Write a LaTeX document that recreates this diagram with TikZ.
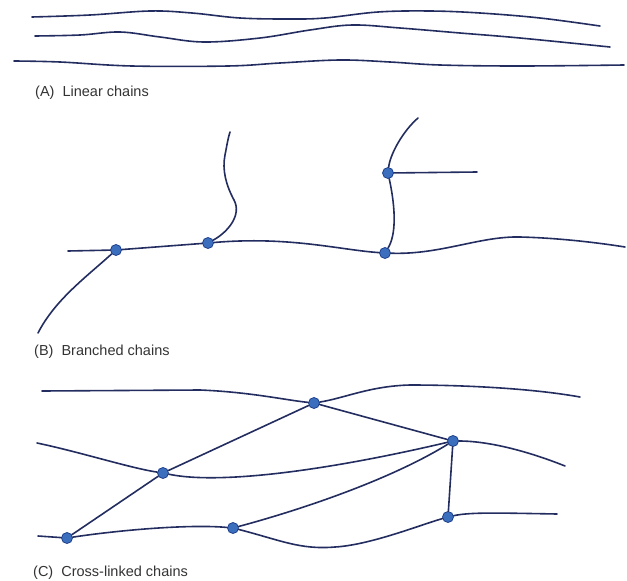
\documentclass[tikz,border=0pt]{standalone}
\usepackage{fontspec}
\setmainfont{Liberation Sans}
\usepackage{tikz}
\definecolor{strandblue}{RGB}{35,45,95}
\definecolor{dotblue}{RGB}{60,110,190}
\definecolor{dotedge}{RGB}{30,65,140}

\begin{document}
\begin{tikzpicture}[
    x=1pt, y=-1pt,
    strand/.style={draw=strandblue, line width=1.6pt, line cap=round},
    junction/.style={circle, fill=dotblue, draw=dotedge, line width=0.8pt, minimum size=11pt, inner sep=0pt},
    caption/.style={anchor=west, inner sep=0pt, text=black!80, font=\fontsize{14.5}{17}\selectfont}
]
\useasboundingbox (0,0) rectangle (627,581);

% (A) linear chains
\draw[strand] plot[smooth, tension=0.6] coordinates {(32,17) (90,15) (150,11) (192,13) (240,18) (290,19) (325,18) (378,12) (430,11) (480,13) (540,18) (600,26)};
\draw[strand] plot[smooth, tension=0.6] coordinates {(35,36) (80,35) (120,32) (160,37) (204,42) (260,38) (310,30) (352,25) (400,28) (460,33) (520,38) (610,47)};
\draw[strand] plot[smooth, tension=0.6] coordinates {(14,61) (60,62) (132,66) (228,66) (280,63) (340,60) (390,62) (440,65) (520,66) (624,65)};
\node[caption] (capA) at (35,93) {(A)\ \ Linear chains};

% (B) branched chains
\node[junction] (B1) at (116,250) {};
\node[junction] (B2) at (208,243) {};
\node[junction] (B3) at (385,253) {};
\node[junction] (B4) at (388,173) {};
\coordinate (b0) at (68,251);
\coordinate (bE) at (625,247);
\coordinate (bL) at (38,333);
\coordinate (b2t) at (230,132);
\coordinate (b4t) at (418,118);
\coordinate (b4r) at (477,172);

\draw[strand] (b0) -- (B1);
\draw[strand] (B1) -- (B2);
\draw[strand] (B2) .. controls (290,236) and (340,250) .. (B3);
\draw[strand] (B3) .. controls (440,255) and (480,236) .. (520,237) .. controls (560,238) and (600,243) .. (bE);
\draw[strand] (B1) .. controls (85,278) and (55,300) .. (bL);
\draw[strand] (B2) .. controls (228,232) and (242,215) .. (234,200) .. controls (226,185) and (222,170) .. (225,155) .. controls (227,145) and (228,138) .. (b2t);
\draw[strand] (B3) .. controls (396,235) and (396,210) .. (B4);
\draw[strand] (B4) .. controls (390,155) and (402,132) .. (b4t);
\draw[strand] (B4) -- (b4r);
\node[caption] (capB) at (34,352) {(B)\ \ Branched chains};

% (C) cross-linked chains
\node[junction] (C1) at (314,403) {};
\node[junction] (C2) at (163,473) {};
\node[junction] (C3) at (453,441) {};
\node[junction] (C4) at (67,538) {};
\node[junction] (C5) at (233,528) {};
\node[junction] (C6) at (448,517) {};
\coordinate (c1s) at (42,391);
\coordinate (c1e) at (580,397);
\coordinate (c2s) at (37,443);
\coordinate (c3e) at (565,466);
\coordinate (c4s) at (38,536);
\coordinate (c6e) at (557,514);

% chains
\draw[strand] (c1s) -- (200,390) .. controls (250,392) and (285,400) .. (C1);
\draw[strand] (C1) .. controls (345,398) and (370,386) .. (410,385) .. controls (460,385) and (530,388) .. (c1e);
\draw[strand] (c2s) .. controls (80,452) and (130,468) .. (C2);
\draw[strand] (C2) .. controls (220,485) and (330,470) .. (C3);
\draw[strand] (C3) .. controls (490,441) and (530,452) .. (c3e);
\draw[strand] (c4s) -- (C4);
\draw[strand] (C4) .. controls (120,530) and (190,524) .. (C5);
\draw[strand] (C5) .. controls (280,540) and (300,550) .. (335,547) .. controls (370,545) and (420,525) .. (C6);
\draw[strand] (C6) .. controls (470,512) and (500,513) .. (c6e);

% cross-links
\draw[strand] (C4) -- (C2);
\draw[strand] (C2) -- (C1);
\draw[strand] (C1) -- (C3);
\draw[strand] (C3) -- (C6);
\draw[strand] (C5) .. controls (300,510) and (390,480) .. (C3);
\node[caption] (capC) at (33,573) {(C)\ \ Cross-linked chains};

\end{tikzpicture}
\end{document}
